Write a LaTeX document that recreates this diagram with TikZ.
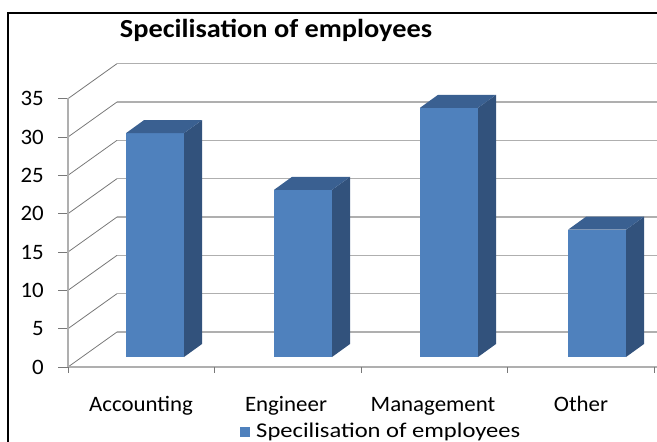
\documentclass[tikz,border=0pt]{standalone}
\usepackage{fontspec}
\setmainfont{Carlito}

\definecolor{barfront}{RGB}{79,129,189}
\definecolor{barside}{RGB}{50,82,124}
\definecolor{bartop}{RGB}{58,96,145}
\definecolor{wallgrid}{RGB}{175,175,175}
\definecolor{sidegrid}{RGB}{120,120,120}

% one 3D column: #1 = left edge of front face, #2 = value
\newcommand{\drawcolumn}[2]{%
    \pgfmathsetmacro{\ctop}{357-7.667*#2}
    \fill[barfront] (#1, 357) rectangle (#1+58, \ctop);                                % front face
    \fill[barside]  (#1+58, 357) -- (#1+76, 344) -- (#1+76, \ctop-13) -- (#1+58, \ctop) -- cycle; % side face
    \fill[bartop]   (#1, \ctop) -- (#1+18, \ctop-13) -- (#1+76, \ctop-13) -- (#1+58, \ctop) -- cycle; % top face
}

\tikzset{
    axislabel/.style   = {font=\fontsize{22}{23}\selectfont, inner sep=0pt, xscale=1.04},
    legendtext/.style  = {font=\fontsize{21}{22}\selectfont, inner sep=0pt, xscale=1.17},
    charttitle/.style  = {font=\bfseries\fontsize{26}{28}\selectfont, inner sep=0pt, xscale=1.09},
}

\begin{document}
\begin{tikzpicture}[x=1pt, y=-1pt]
    \useasboundingbox (0, 0) rectangle (657, 442);

    % Frame of the chart
    \draw[line width=2pt] (8, 442) -- (8, 13) -- (657, 13);

    \node[charttitle] (title) at (276, 30) {Specilisation of employees};

    % Walls: grid lines, side wall diagonals, ticks and values
    \foreach \v in {0, 5, ..., 35} {
        \pgfmathsetmacro{\yf}{367-7.667*\v}
        \draw[wallgrid, line width=1.6pt] (117, \yf-35) -- (657, \yf-35);  % back wall
        \draw[sidegrid, line width=0.8pt] (68, \yf) -- (117, \yf-35);      % side wall
        \draw[sidegrid, line width=0.8pt] (58, \yf) -- (68, \yf);          % tick
        \node[axislabel, anchor=east] (val\v) at (44, \yf) {\v};
    }

    % Axes
    \draw[wallgrid, line width=1.4pt] (68, 98.3) -- (68, 367);   % value axis
    \draw[wallgrid, line width=1.6pt] (68, 367) -- (657, 367);   % category axis
    \draw[sidegrid, line width=0.8pt] (68, 367) -- (68, 373);
    \draw[sidegrid, line width=0.8pt] (214.5, 367) -- (214.5, 373);
    \draw[sidegrid, line width=0.8pt] (361, 367) -- (361, 373);
    \draw[sidegrid, line width=0.8pt] (507.5, 367) -- (507.5, 373);
    \draw[sidegrid, line width=0.8pt] (654, 367) -- (654, 373);

    % Columns
    \drawcolumn{126}{29.2}   % Accounting
    \drawcolumn{274}{21.8}   % Engineer
    \drawcolumn{420}{32.5}   % Management
    \drawcolumn{568}{16.6}   % Other

    % Category names
    \node[axislabel, anchor=base] (accounting) at (141, 411) {Accounting};
    \node[axislabel, anchor=base] (engineer)   at (286, 411) {Engineer};
    \node[axislabel, anchor=base] (management) at (433, 411) {Management};
    \node[axislabel, anchor=base] (other)      at (581, 411) {Other};

    % Legend
    \fill[barfront] (240, 427) rectangle (250, 437);
    \node[legendtext, anchor=west] (legend) at (256, 432) {Specilisation of employees};
\end{tikzpicture}
\end{document}
